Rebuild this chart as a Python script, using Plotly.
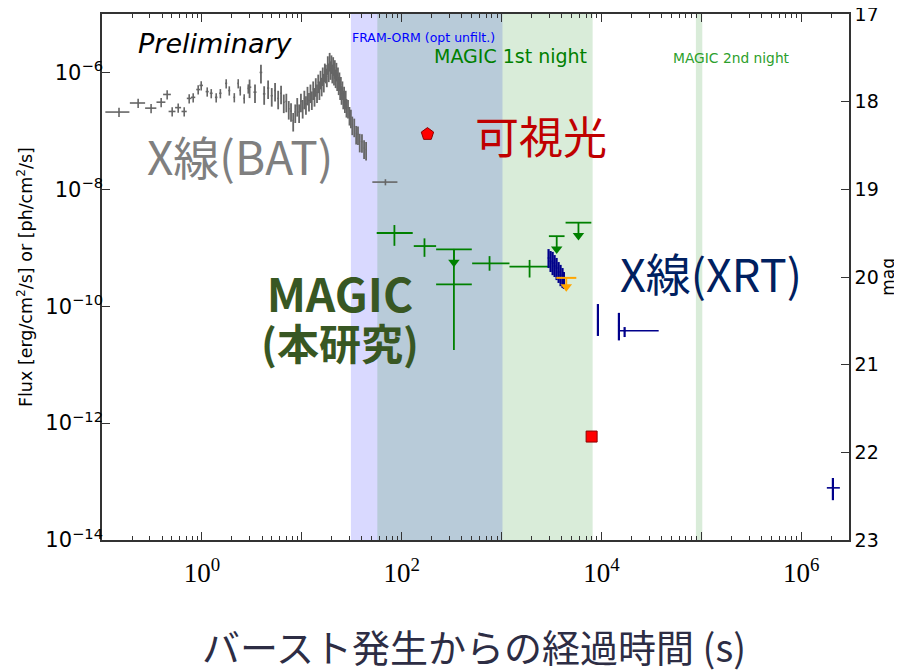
import numpy as np
import plotly.graph_objects as go

# ---------------- data ----------------
# Swift-BAT light curve, early sparse part
bat_early_t = [0.148, 0.230, 0.310, 0.391, 0.449, 0.504, 0.579, 0.665, 0.746, 0.818, 0.918, 0.984,
               1.13, 1.24, 1.39, 1.53, 1.75, 1.88, 2.11, 2.31, 2.42, 2.65, 2.91]
bat_early_f = [2.1e-7, 3.0e-7, 2.45e-7, 3.1e-7, 4.2e-7, 2.15e-7, 2.5e-7, 2.15e-7, 3.6e-7, 3.75e-7, 5.1e-7, 6.0e-7,
               4.7e-7, 4.4e-7, 3.75e-7, 4.4e-7, 6.5e-7, 4.9e-7, 3.75e-7, 6.5e-7, 4.9e-7, 3.6e-7, 5.3e-7]
# Swift-BAT light curve, dense part
bat_t = [3.0, 3.4, 3.9, 4.2, 4.6, 5.0, 5.4, 5.8, 6.2, 6.6, 7.0, 7.4, 7.8, 8.2, 8.6, 9.0, 9.4, 9.8,
         10.2, 10.6, 11.0, 11.4, 11.8, 12.2, 12.6, 13.0, 13.4, 13.8, 14.2, 14.6, 15.0, 15.4, 15.8,
         16.2, 16.6, 17.0, 17.4, 17.8, 18.2, 18.6, 19.0, 19.4, 19.8, 20.2, 20.6, 21.0, 21.4, 21.8,
         22.2, 22.6, 23.0, 23.4, 23.8, 24.2, 24.6, 25.0, 25.5, 26.0, 26.5, 27.0, 27.5, 28.0, 29.0,
         30.0, 31.0, 32.0, 33.5, 35.0, 36.5, 38.0, 40.0, 42.0, 44.0]
bat_f = [5.6e-7, 4.6e-7, 1.0e-6, 4.3e-7, 5.4e-7, 4.0e-7, 4.9e-7, 3.6e-7, 4.4e-7, 3.1e-7, 3.2e-7, 2.4e-7,
         2.2e-7, 1.5e-7, 2.1e-7, 2.7e-7, 2.1e-7, 3.2e-7, 2.5e-7, 3.6e-7, 2.9e-7, 4.2e-7, 3.3e-7,
         4.6e-7, 3.5e-7, 5.2e-7, 4.0e-7, 5.9e-7, 4.6e-7, 6.8e-7, 5.2e-7, 7.9e-7, 6.0e-7, 9.0e-7,
         7.0e-7, 1.05e-6, 1.0e-6, 8.6e-7, 1.4e-6, 1.05e-6, 1.6e-6, 1.15e-6, 1.45e-6, 1.0e-6,
         1.35e-6, 9.2e-7, 1.2e-6, 8.3e-7, 1.08e-6, 7.4e-7, 9.0e-7, 6.3e-7, 7.4e-7, 5.2e-7, 6.2e-7,
         4.3e-7, 5.2e-7, 3.6e-7, 4.2e-7, 3.1e-7, 3.6e-7, 2.6e-7, 2.5e-7, 1.9e-7, 1.7e-7, 1.3e-7,
         1.2e-7, 9.0e-8, 8.8e-8, 6.6e-8, 6.5e-8, 5.1e-8, 4.8e-8]
# late BAT bin
bat_late_t = [68.7]
bat_late_lo = [50.8]
bat_late_hi = [90.6]
bat_late_f = [1.33e-8]

# MAGIC detections
magic_t = [84.5, 169, 333, 757, 1905]
magic_t_lo = [56.2, 132, 221, 507, 1199]
magic_t_hi = [128.9, 221, 503, 1199, 3020]
magic_f = [1.79e-9, 1.07e-9, 2.37e-10, 5.4e-10, 4.75e-10]
magic_f_lo = [1.08e-9, 7.0e-10, 1.78e-11, 4.05e-10, 3.1e-10]
magic_f_hi = [2.45e-9, 1.45e-9, 9.4e-10, 7.2e-10, 6.2e-10]
# MAGIC upper limits
magic_ul_t = [333, 3560, 5875]
magic_ul_t_lo = [221, 2972, 4366]
magic_ul_t_hi = [503, 4266, 7907]
magic_ul_f = [9.4e-10, 1.58e-9, 2.69e-9]

# Swift-XRT
xrt_t = [2950, 3090, 3240, 3390, 3550, 3720, 3890, 4070, 4200, 9200, 14930, 17030, 2.07e6]
xrt_t_lo = [2950, 3090, 3240, 3390, 3550, 3720, 3890, 4070, 4200, 9200, 14930, 14800, 1.80e6]
xrt_t_hi = [2950, 3090, 3240, 3390, 3550, 3720, 3890, 4070, 4200, 9200, 14930, 37330, 2.43e6]
xrt_f = [6.7e-10, 5.9e-10, 5.5e-10, 4.9e-10, 4.5e-10, 3.85e-10, 3.4e-10, 3.04e-10, 2.7e-10,
         5.8e-11, 4.6e-11, 3.8e-11, 7.8e-14]
xrt_f_lo = [4.5e-10, 3.85e-10, 3.4e-10, 3.16e-10, 2.8e-10, 2.5e-10, 2.2e-10, 2.05e-10, 1.97e-10,
            3.1e-11, 2.6e-11, 2.97e-11, 4.8e-14]
xrt_f_hi = [9.5e-10, 8.8e-10, 8.5e-10, 7.5e-10, 6.7e-10, 5.7e-10, 5.1e-10, 4.5e-10, 3.85e-10,
            1.09e-10, 7.7e-11, 4.4e-11, 1.15e-13]

# optical (right axis, magnitudes)
opt_pent_t = [181]
opt_pent_mag = [18.37]
opt_sq_t = [7960]
opt_sq_mag = [21.82]
opt_ul_t = [4440]
opt_ul_t_lo = [3524]
opt_ul_t_hi = [5593]
opt_ul_mag = [20.01]

# observation windows (s)
fram_window = [31, 1020]
magic_night1 = [57, 8150]
magic_night2 = [88000, 102000]

x_tick_exp = [-1, 0, 1, 2, 3, 4, 5, 6]
y_tick_exp = [-14, -12, -10, -8, -6]
mag_ticks = [17, 18, 19, 20, 21, 22, 23]

# ---------------- styling ----------------
GRAY = "#666666"
GREEN = "#008000"
NAVY = "#00008B"
AX = "#333333"

fig = go.Figure()


def err_x(t, lo, hi, color, th):
    return dict(type="data", symmetric=False,
                array=[h - c for c, h in zip(t, hi)],
                arrayminus=[c - l for c, l in zip(t, lo)],
                width=0, thickness=th, color=color)


def err_y(f, lo, hi, color, th):
    return dict(type="data", symmetric=False,
                array=[h - c for c, h in zip(f, hi)],
                arrayminus=[c - l for c, l in zip(f, lo)],
                width=0, thickness=th, color=color)


# BAT
fig.add_trace(go.Scatter(
    x=bat_early_t, y=bat_early_f, mode="markers", marker=dict(size=1, color=GRAY),
    error_x=dict(type="constant", value=0.04, width=0, thickness=1.6, color=GRAY),
    error_y=dict(type="percent", value=18, width=0, thickness=1.6, color=GRAY),
    showlegend=False))
fig.add_trace(go.Scatter(
    x=bat_t, y=bat_f, mode="markers", marker=dict(size=1, color=GRAY),
    error_x=dict(type="constant", value=0.12, width=0, thickness=1.5, color=GRAY),
    error_y=dict(type="percent", value=35, width=0, thickness=1.8, color=GRAY),
    showlegend=False))
fig.add_trace(go.Scatter(
    x=bat_late_t, y=bat_late_f, mode="markers", marker=dict(size=1, color=GRAY),
    error_x=err_x(bat_late_t, bat_late_lo, bat_late_hi, GRAY, 1.6),
    error_y=dict(type="percent", value=12, width=0, thickness=1.6, color=GRAY),
    showlegend=False))

# MAGIC detections
fig.add_trace(go.Scatter(
    x=magic_t, y=magic_f, mode="markers", marker=dict(size=1, color=GREEN),
    error_x=err_x(magic_t, magic_t_lo, magic_t_hi, GREEN, 1.8),
    error_y=err_y(magic_f, magic_f_lo, magic_f_hi, GREEN, 1.8),
    showlegend=False))
# MAGIC upper limits
fig.add_trace(go.Scatter(
    x=magic_ul_t, y=magic_ul_f, mode="markers", marker=dict(size=1, color=GREEN),
    error_x=err_x(magic_ul_t, magic_ul_t_lo, magic_ul_t_hi, GREEN, 1.8),
    error_y=dict(type="data", symmetric=False, array=[0] * len(magic_ul_f),
                 arrayminus=[f * (1 - 10 ** -0.24) for f in magic_ul_f],
                 width=0, thickness=1.8, color=GREEN),
    showlegend=False))
fig.add_trace(go.Scatter(
    x=magic_ul_t, y=[f * 10 ** -0.22 for f in magic_ul_f], mode="markers",
    marker=dict(symbol="triangle-down", size=10, color=GREEN), showlegend=False))

# XRT
fig.add_trace(go.Scatter(
    x=xrt_t, y=xrt_f, mode="markers", marker=dict(size=2, color=NAVY),
    error_x=err_x(xrt_t, xrt_t_lo, xrt_t_hi, NAVY, 1.6),
    error_y=err_y(xrt_f, xrt_f_lo, xrt_f_hi, NAVY, 2.2),
    showlegend=False))

# optical on magnitude axis
fig.add_trace(go.Scatter(
    x=opt_pent_t, y=opt_pent_mag, yaxis="y2", mode="markers",
    marker=dict(symbol="pentagon", size=13, color="#ff0000", line=dict(color="#8b0000", width=1)),
    showlegend=False))
fig.add_trace(go.Scatter(
    x=opt_sq_t, y=opt_sq_mag, yaxis="y2", mode="markers",
    marker=dict(symbol="square", size=11, color="#ff0000", line=dict(color="#8b0000", width=1)),
    showlegend=False))
fig.add_trace(go.Scatter(
    x=opt_ul_t, y=opt_ul_mag, yaxis="y2", mode="markers", marker=dict(size=1, color="#FFA500"),
    error_x=err_x(opt_ul_t, opt_ul_t_lo, opt_ul_t_hi, "#FFA500", 2),
    error_y=dict(type="data", symmetric=False, array=[0.1], arrayminus=[0],
                 width=0, thickness=1.8, color="#FFA500"),
    showlegend=False))
fig.add_trace(go.Scatter(
    x=opt_ul_t, y=[m + 0.1 for m in opt_ul_mag], yaxis="y2", mode="markers",
    marker=dict(symbol="triangle-down", size=10, color="#FFA500"), showlegend=False))

# observation windows
for win, col in [(fram_window, "rgba(0,0,255,0.15)"),
                 (magic_night1, "rgba(0,128,0,0.15)"),
                 (magic_night2, "rgba(0,128,0,0.15)")]:
    fig.add_vrect(x0=win[0], x1=win[1], fillcolor=col, line_width=0, layer="below")

# ---------------- axes ----------------
# the page body adds an 8 px margin, so the figure is 8 px smaller than the window
minor_vals = [m * 10.0 ** k for k in range(-1, 7) for m in range(2, 10)]
fig.update_layout(
    width=894, height=664,
    margin=dict(l=94, r=53, t=6, b=132),
    paper_bgcolor="white", plot_bgcolor="white",
    xaxis=dict(type="log", range=[-1, np.log10(3e6)], automargin=False,
               tickvals=[10.0 ** e for e in x_tick_exp],
               ticktext=[("10<sup>%d</sup>" % e) if e % 2 == 0 and e >= 0 else "" for e in x_tick_exp],
               ticks="inside", ticklen=8, tickwidth=1.3, tickcolor=AX,
               minor=dict(tickvals=minor_vals, ticks="inside", ticklen=4, tickwidth=1.1,
                          tickcolor=AX, showgrid=False),
               showline=True, linecolor=AX, linewidth=1.5, mirror="ticks",
               showgrid=False, zeroline=False, ticklabelstandoff=8,
               tickfont=dict(family="Liberation Serif", size=27, color="black")),
    yaxis=dict(type="log", range=[-14, -5], automargin=False,
               tickvals=[10.0 ** e for e in y_tick_exp],
               ticktext=["10<sup>\u2212%d</sup>" % (-e) for e in y_tick_exp],
               ticks="inside", ticklen=8, tickwidth=1.3, tickcolor=AX,
               showline=True, linecolor=AX, linewidth=1.5,
               showgrid=False, zeroline=False, ticklabelstandoff=-7,
               tickfont=dict(family="DejaVu Sans", size=21, color="black")),
    yaxis2=dict(overlaying="y", side="right", range=[23, 17], automargin=False,
                tickvals=mag_ticks, ticks="inside", ticklen=8, tickwidth=1.3, tickcolor=AX,
                showline=True, linecolor=AX, linewidth=1.5, ticklabeloverflow="allow",
                showgrid=False, zeroline=False,
                tickfont=dict(family="DejaVu Sans", size=19, color="black")),
)

# ---------------- text ----------------
JP = "Noto Sans CJK JP"
ann = [
    dict(text="<i>Preliminary</i>", x=0.046, y=0.943, xanchor="left", yanchor="middle",
         font=dict(family="DejaVu Sans", size=27, color="black")),
    dict(text="FRAM-ORM (opt unfilt.)", x=0.332, y=0.956, xanchor="left", yanchor="middle",
         font=dict(family="DejaVu Sans", size=12.5, color="#0000ff")),
    dict(text="MAGIC 1st night", x=0.442, y=0.920, xanchor="left", yanchor="middle",
         font=dict(family="DejaVu Sans", size=19, color=GREEN)),
    dict(text="MAGIC 2nd night", x=0.762, y=0.916, xanchor="left", yanchor="middle",
         font=dict(family="DejaVu Sans", size=13.8, color="#2ca02c")),
    dict(text="X線(BAT)", x=0.058, y=0.732, xanchor="left", yanchor="middle",
         font=dict(family=JP, size=46, color="#7f7f7f")),
    dict(text="可視光", x=0.496, y=0.770, xanchor="left", yanchor="middle",
         font=dict(family=JP, size=44, color="#c00000")),
    dict(text="<b><span style='font-size:46px'>MAGIC</span><br>"
              "<span style='font-size:42px'>(本研究)</span></b>",
         x=0.319, y=0.426, xanchor="center", yanchor="middle", align="center",
         font=dict(family=JP, size=37, color="#385723")),
    dict(text="X線(XRT)", x=0.6914, y=0.5095, xanchor="left", yanchor="middle",
         font=dict(family=JP, size=45, color="#002060")),
    dict(text="バースト発生からの経過時間 (s)", x=0.498, y=-0.2015, xanchor="center", yanchor="middle",
         font=dict(family=JP, size=38, color="#2d2d44")),
    dict(text="Flux [erg/cm<sup>2</sup>/s] or [ph/cm<sup>2</sup>/s]", x=-0.103, y=0.5,
         xanchor="center", yanchor="middle", textangle=-90,
         font=dict(family="DejaVu Sans", size=17.5, color="black")),
    dict(text="mag", x=1.052, y=0.5, xanchor="center", yanchor="middle", textangle=-90,
         font=dict(family="DejaVu Sans", size=17, color="black")),
]
for a in ann:
    a.update(xref="paper", yref="paper", showarrow=False)
    fig.add_annotation(**a)

fig.write_html("out.html")
